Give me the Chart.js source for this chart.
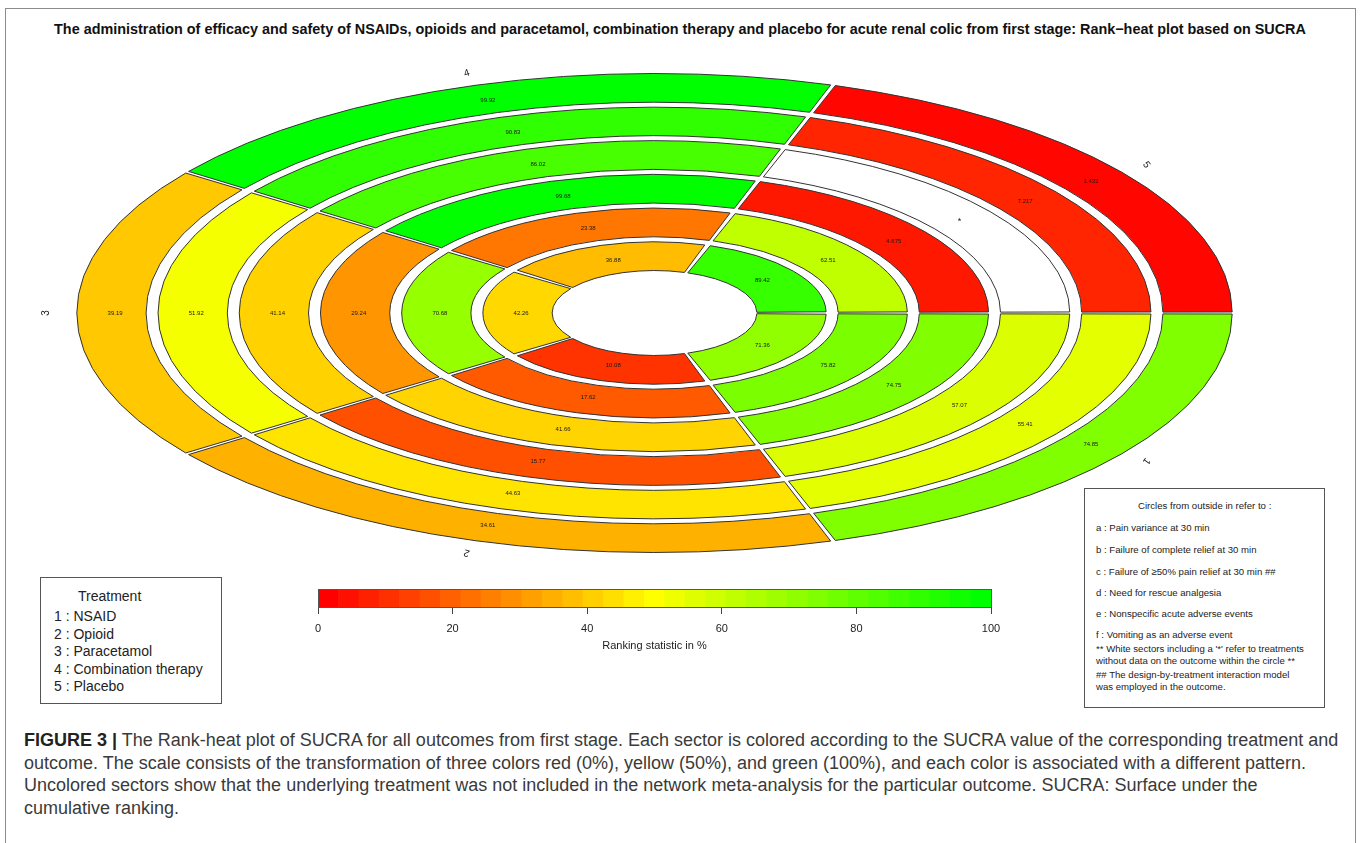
<!DOCTYPE html>
<html>
<head>
<meta charset="utf-8">
<script src="https://cdn.jsdelivr.net/npm/chart.js@4.4.0/dist/chart.umd.min.js"></script>
<style>
  body { margin: 0; background: #fff; font-family: "Liberation Sans", Arial, sans-serif; }
  #page { position: relative; width: 1360px; height: 843px; overflow: hidden; }
  #frame { position: absolute; left: 5px; top: 8px; width: 1349px; height: 900px; border: 1px solid #8c8c8c; }
  #title { position: absolute; left: 0; width: 1360px; top: 21px; text-align: center; font-weight: bold; font-size: 14.4px; color: #111; white-space: nowrap; }
  #rings { position: absolute; left: 0; top: 43px; }
  #scale { position: absolute; left: 290px; top: 580px; }
  .box { position: absolute; border: 1px solid #555; background: #fff; color: #222; }
  #treatBox { left: 40px; top: 577px; width: 180px; height: 125px; font-size: 14px; }
  #treatBox .head { padding: 9px 0 0 37px; line-height: 18px; }
  #treatBox .items { margin: 3px 0 0 13px; }
  #treatBox .items div { line-height: 17.5px; }
  #outBox { left: 1084px; top: 488px; width: 239px; height: 218px; font-size: 9.6px; }
  #outBox div { position: absolute; left: 11px; line-height: 12px; white-space: nowrap; }
  #caption { position: absolute; left: 24px; top: 729px; font-size: 18px; line-height: 22.6px; color: #3a3a3a; white-space: nowrap; }
  #caption b { color: #222; }
</style>
</head>
<body>
<div id="page">
  <div id="frame"></div>
  <div id="title">The administration of efficacy and safety of NSAIDs, opioids and paracetamol, combination therapy and placebo for acute renal colic from first stage: Rank−heat plot based on SUCRA</div>
  <canvas id="rings" width="1360" height="540"></canvas>
  <canvas id="scale" width="730" height="80"></canvas>
  <div class="box" id="treatBox"></div>
  <div class="box" id="outBox"></div>
  <div id="caption">
    <div><b>FIGURE 3 |</b> The Rank-heat plot of SUCRA for all outcomes from first stage. Each sector is colored according to the SUCRA value of the corresponding treatment and</div>
    <div>outcome. The scale consists of the transformation of three colors red (0%), yellow (50%), and green (100%), and each color is associated with a different pattern.</div>
    <div>Uncolored sectors show that the underlying treatment was not included in the network meta-analysis for the particular outcome. SUCRA: Surface under the</div>
    <div>cumulative ranking.</div>
  </div>
</div>
<script>
// 治療 (セクター)
const treatmentIds = ['1', '2', '3', '4', '5']
const treatments = ['NSAID', 'Opioid', 'Paracetamol', 'Combination therapy', 'Placebo']

// アウトカム (外側の円から内側へ)
const outcomeIds = ['a', 'b', 'c', 'd', 'e', 'f']
const outcomes = [
    'Pain variance at 30 min',
    'Failure of complete relief at 30 min',
    'Failure of ≥50% pain relief at 30 min ##',
    'Need for rescue analgesia',
    'Nonspecific acute adverse events',
    'Vomiting as an adverse event'
]

// SUCRA (%)  治療1〜5の順, null = データなし
const sucraA = [74.85, 34.61, 39.19, 99.92, 1.433]
const sucraB = [55.41, 44.63, 51.92, 90.83, 7.217]
const sucraC = [57.07, 15.77, 41.14, 86.02, null]
const sucraD = [74.75, 41.66, 29.24, 99.68, 4.675]
const sucraE = [75.82, 17.62, 70.68, 23.38, 62.51]
const sucraF = [71.36, 10.08, 42.26, 36.88, 89.42]

// カラーバーの目盛り
const scaleTicks = [0, 20, 40, 60, 80, 100]
const bandCount = 33

const STRETCH = 2.412

// 赤(0) → 黄(50) → 緑(100)
function ramp(v) {
    if (v === null) return '#ffffff'
    let r, g
    if (v <= 50) { r = 255; g = Math.round(255 * v / 50) }
    else { r = Math.round(255 * (100 - v) / 50); g = 255 }
    return 'rgb(' + r + ',' + g + ',0)'
}

// 凡例ボックス
let treatBox = document.getElementById('treatBox')
let html = '<div class="head">Treatment</div><div class="items">'
for (let i in treatments) {
    html += '<div>' + treatmentIds[i] + ' : ' + treatments[i] + '</div>'
}
treatBox.innerHTML = html + '</div>'

let outBox = document.getElementById('outBox')
let tops = [11, 33, 55, 77, 98, 119, 140]
let outHtml = '<div style="top:' + tops[0] + 'px;left:53px">Circles from outside in refer to :</div>'
for (let i in outcomes) {
    outHtml += '<div style="top:' + tops[+i + 1] + 'px">' + outcomeIds[i] + ' : ' + outcomes[i] + '</div>'
}
outHtml += '<div style="top:154px">** White sectors including a \'*\' refer to treatments<br>without data on the outcome within the circle **</div>'
outHtml += '<div style="top:180px">## The design-by-treatment interaction model<br>was employed in the outcome.</div>'
outBox.innerHTML = outHtml

// 同心円データセット
const ringData = [sucraA, sucraB, sucraC, sucraD, sucraE, sucraF]
let datasets = []
ringData.forEach(function(values, i) {
    if (i > 0) {
        // 円の間の隙間
        datasets.push({
            data: [1], weight: 5, spacing: 3, borderWidth: 1,
            backgroundColor: 'rgba(0,0,0,0)', borderColor: 'rgba(0,0,0,0)'
        })
    }
    datasets.push({
        label: outcomeIds[i],
        data: treatments.map(function() { return 1 }),
        sucra: values,
        weight: 29, spacing: 3, borderWidth: 1,
        backgroundColor: values.map(ramp),
        borderColor: '#333'
    })
})

// 楕円に引き伸ばし + ラベル描画
const ellipsePlugin = {
    id: 'ellipse',
    beforeDatasetsDraw(chart) {
        let ctx = chart.ctx
        let c = chart.getDatasetMeta(0).data[0]
        ctx.save()
        let base = ctx.getTransform()
        ctx.translate(c.x, c.y)
        ctx.scale(STRETCH, 1)
        ctx.translate(-c.x, -c.y)
        let stroke = CanvasRenderingContext2D.prototype.stroke
        ctx.stroke = function() {
            ctx.save()
            ctx.setTransform(base)
            stroke.apply(ctx, arguments)
            ctx.restore()
        }
    },
    afterDatasetsDraw(chart) {
        let ctx = chart.ctx
        delete ctx.stroke
        ctx.restore()

        ctx.save()
        ctx.textAlign = 'center'
        ctx.textBaseline = 'middle'
        ctx.fillStyle = '#1a1a1a'
        chart.data.datasets.forEach(function(ds, i) {
            if (!ds.sucra) return
            chart.getDatasetMeta(i).data.forEach(function(arc, j) {
                let a = (arc.startAngle + arc.endAngle) / 2
                let r = (arc.innerRadius + arc.outerRadius) / 2
                let v = ds.sucra[j]
                ctx.font = (v === null ? '9px' : '6px') + ' "Liberation Sans", Arial, sans-serif'
                ctx.fillText(v === null ? '*' : v.toPrecision(4), arc.x + STRETCH * r * Math.cos(a), arc.y + r * Math.sin(a))
            })
        })
        // 治療番号
        ctx.font = '10px "Liberation Sans", Arial, sans-serif'
        chart.getDatasetMeta(0).data.forEach(function(arc, j) {
            let a = (arc.startAngle + arc.endAngle) / 2
            let r = arc.outerRadius + 14
            ctx.save()
            ctx.translate(arc.x + STRETCH * r * Math.cos(a), arc.y + r * Math.sin(a))
            ctx.rotate(a + Math.PI / 2)
            ctx.fillText(treatmentIds[j], 0, 0)
            ctx.restore()
        })
        ctx.restore()
    }
}

new Chart(document.getElementById('rings'), {
    type: 'doughnut',
    data: { labels: treatments, datasets: datasets },
    options: {
        responsive: false,
        animation: false,
        events: [],
        rotation: 90,
        cutout: '17.2%',
        layout: { padding: { left: 0, right: 51, top: 30, bottom: 30 } },
        plugins: { legend: { display: false }, tooltip: { enabled: false } }
    },
    plugins: [ellipsePlugin]
})

// カラーバー
let bands = []
let bandColors = []
for (let i = 0; i < bandCount; i++) {
    bands.push({ x: (i + 0.5) * 100 / bandCount, y: 1 })
    bandColors.push(ramp(100 * i / (bandCount - 1)))
}

const outlinePlugin = {
    id: 'outline',
    afterDatasetsDraw(chart) {
        let a = chart.chartArea
        let ctx = chart.ctx
        ctx.save()
        ctx.strokeStyle = '#555'
        ctx.lineWidth = 1
        ctx.strokeRect(Math.round(a.left) + 0.5, Math.round(a.top) + 0.5, Math.round(a.right - a.left), Math.round(a.bottom - a.top))
        ctx.restore()
    }
}

new Chart(document.getElementById('scale'), {
    type: 'bar',
    data: {
        datasets: [{
            data: bands,
            backgroundColor: bandColors,
            borderWidth: 0,
            barPercentage: 1,
            categoryPercentage: 1
        }]
    },
    options: {
        responsive: false,
        animation: false,
        events: [],
        layout: { padding: { left: 28, right: 29, top: 9, bottom: 3.6 } },
        plugins: { legend: { display: false }, tooltip: { enabled: false } },
        scales: {
            x: {
                type: 'linear', min: 0, max: 100, offset: false,
                afterBuildTicks: function(axis) { axis.ticks = scaleTicks.map(function(v) { return { value: v } }) },
                afterFit: function(axis) { axis.height = 49.4 },
                grid: { offset: false, drawOnChartArea: false, drawTicks: true, tickLength: 7, color: '#444' },
                border: { display: true, color: '#444' },
                ticks: { padding: 8, color: '#222', font: { size: 11, family: '"Liberation Sans", Arial, sans-serif' } },
                title: { display: true, text: 'Ranking statistic in %', color: '#222', font: { size: 11, family: '"Liberation Sans", Arial, sans-serif' } }
            },
            y: { display: false, min: 0, max: 1 }
        }
    },
    plugins: [outlinePlugin]
})
</script>
</body>
</html>
